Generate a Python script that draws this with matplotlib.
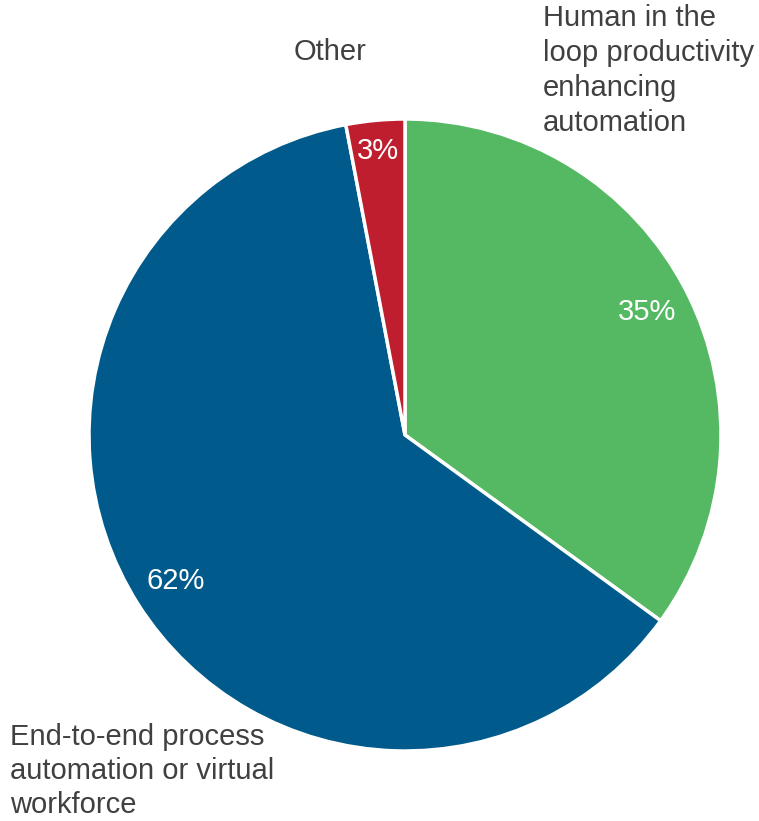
import matplotlib.pyplot as plt
import numpy as np

plt.rcParams['font.family'] = ['Liberation Sans', 'DejaVu Sans']

# Data
labels = ["Human in the\nloop productivity\nenhancing\nautomation",
          "End-to-end process\nautomation or virtual\nworkforce",
          "Other"]
shares = [35, 62, 3]
colors = ["#55B963", "#005A8B", "#BE1E2D"]
label_color = "#404040"

fig = plt.figure(figsize=(7.59, 8.21), dpi=100)
ax = fig.add_axes([89 / 759, 70 / 821, 632 / 759, 632 / 821])

wedges, texts, pcts = ax.pie(
    shares, colors=colors, startangle=90, counterclock=False,
    autopct="%d%%", pctdistance=0.86, radius=1,
    wedgeprops=dict(edgecolor="white", linewidth=2.5),
    textprops=dict(color="white", fontsize=21),
)
# nudge the small slice label outward a bit
pcts[2].set_position((-0.085, 0.90))
ax.set_xlim(-1, 1)
ax.set_ylim(-1, 1)

# category labels
fig.text(543 / 759, 1 - 4 / 821, labels[0], ha="left", va="top",
         fontsize=21, color=label_color, linespacing=1.32)
fig.text(10 / 759, 1 - 723 / 821, labels[1], ha="left", va="top",
         fontsize=21, color=label_color, linespacing=1.27)
fig.text(330 / 759, 1 - 52 / 821, labels[2], ha="center", va="center",
         fontsize=21, color=label_color)

fig.savefig("out.png", dpi=100)
